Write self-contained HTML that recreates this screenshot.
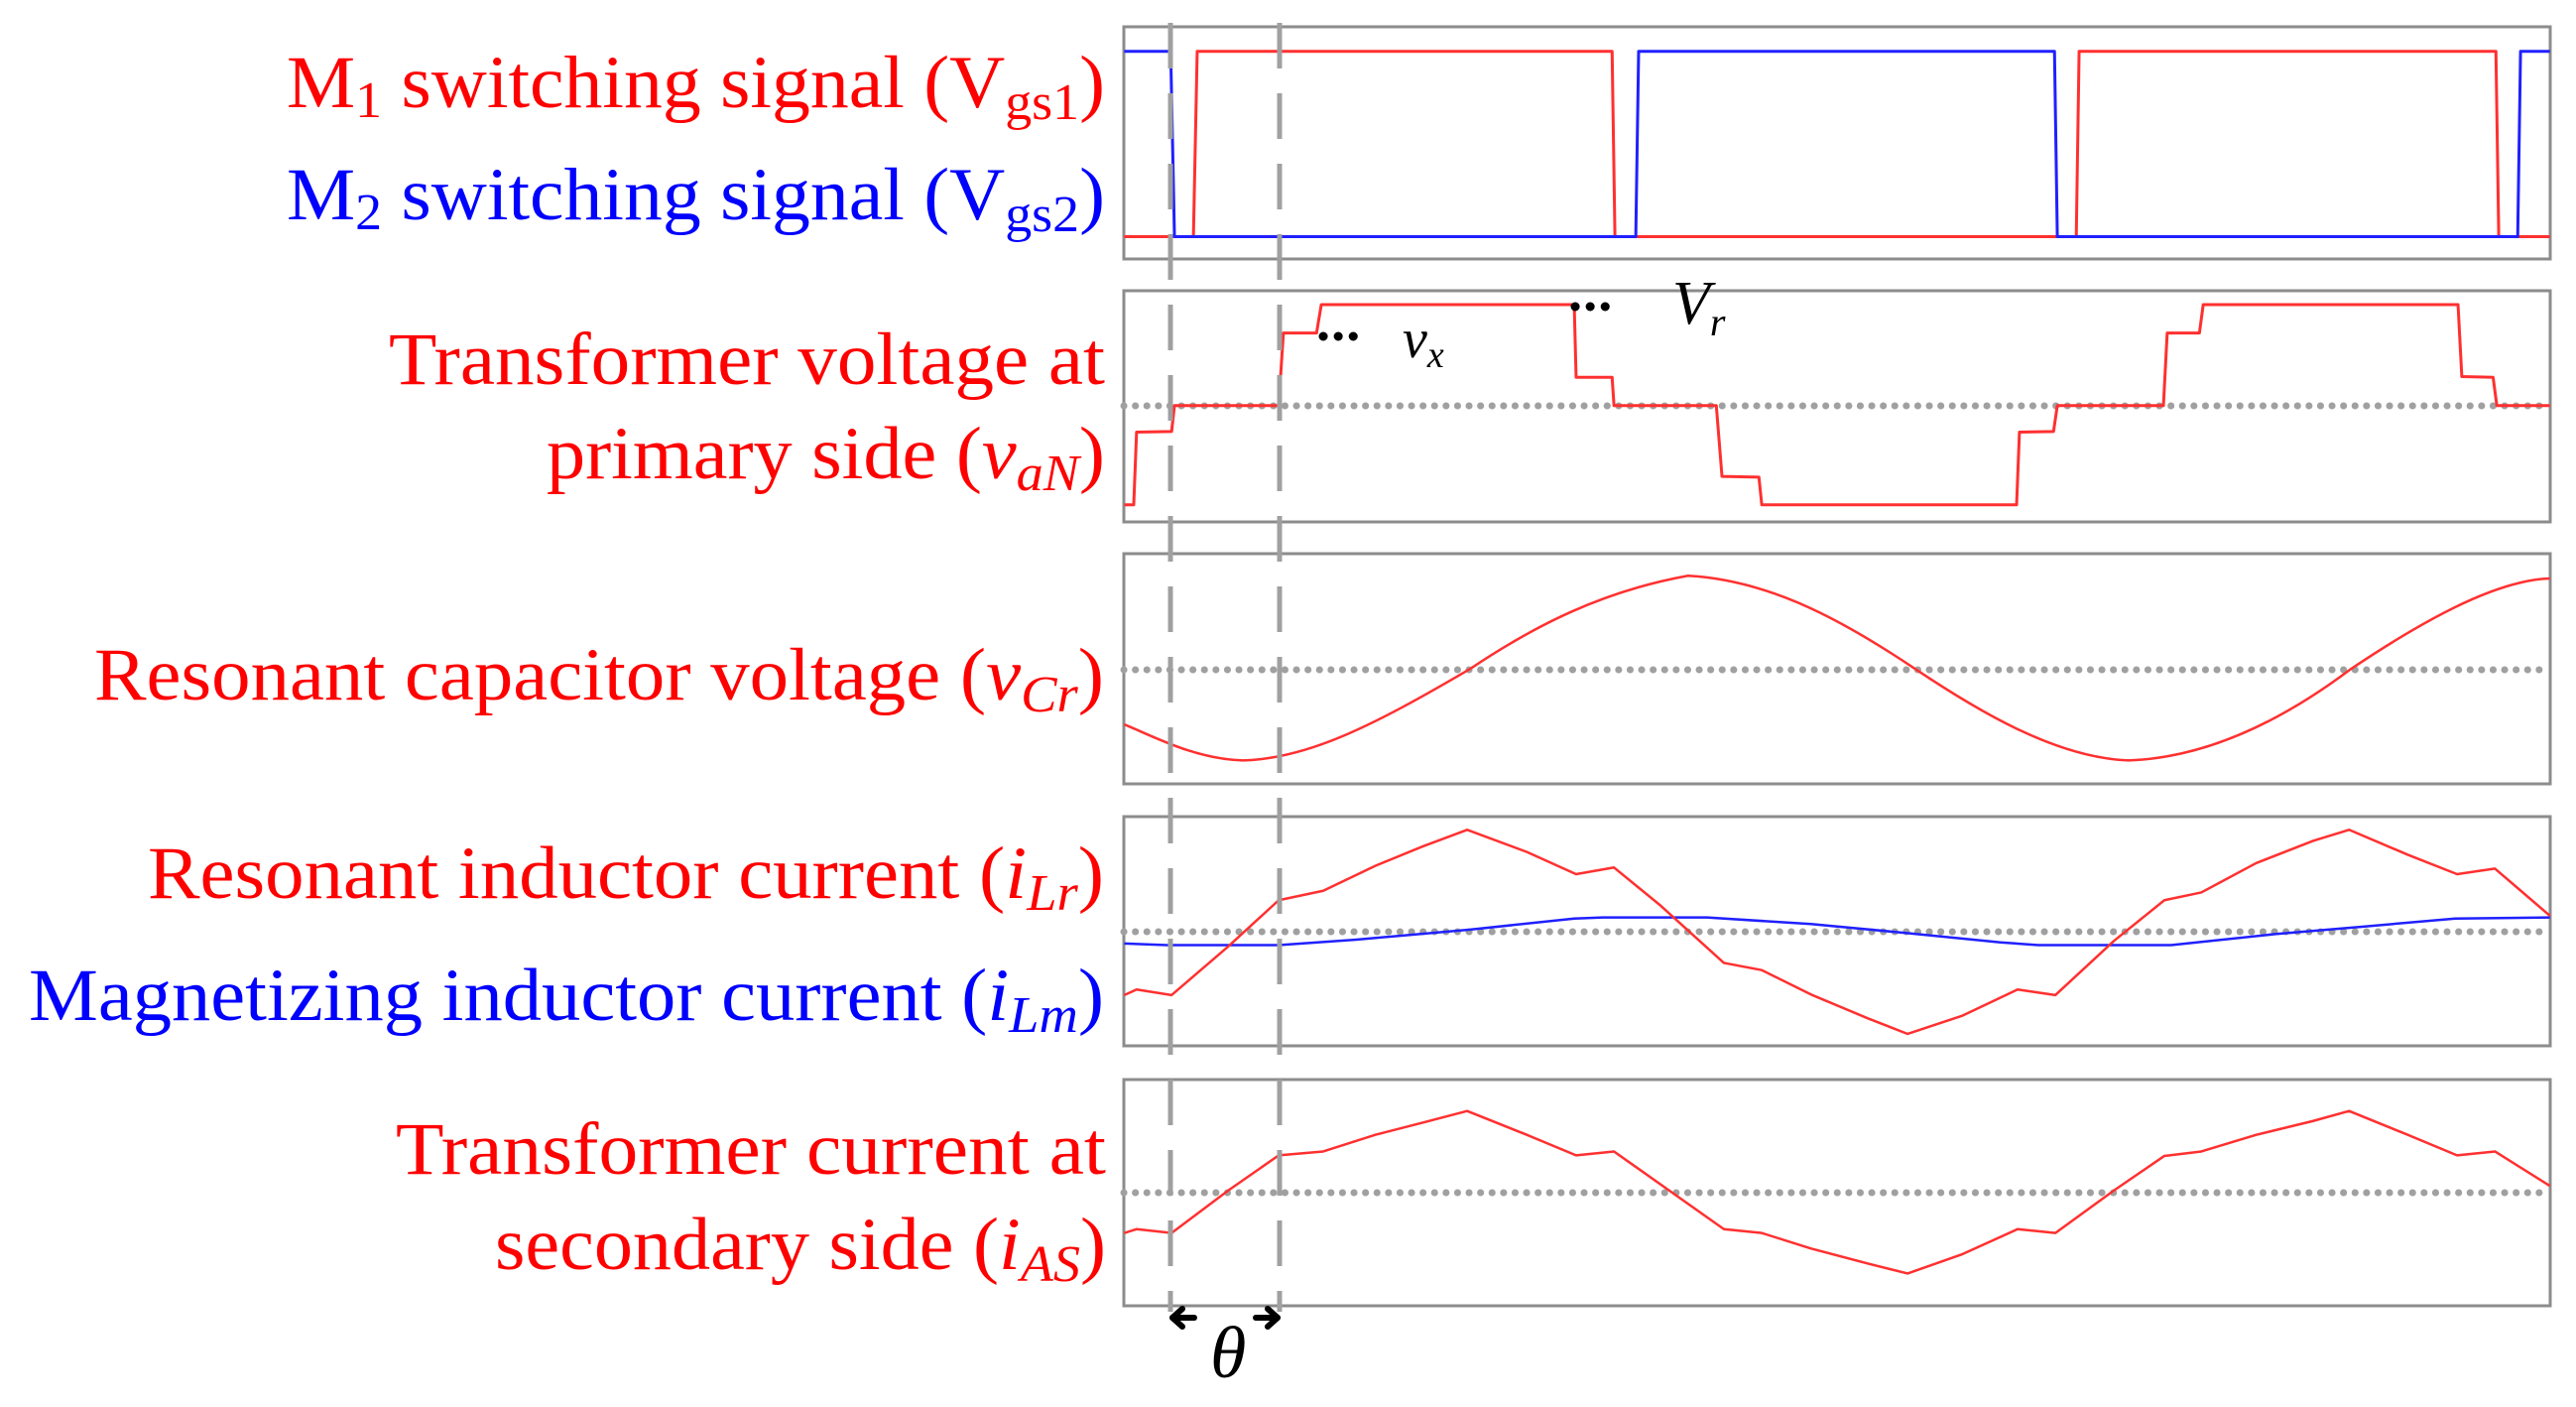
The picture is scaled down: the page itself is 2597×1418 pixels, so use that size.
<!DOCTYPE html>
<html><head><meta charset="utf-8"><style>
html,body{margin:0;padding:0;background:#fff;}
svg{display:block;}
.lbl{font-family:"Liberation Serif",serif;font-size:75px;}
</style></head><body>
<svg width="2597" height="1418" viewBox="0 0 2597 1418" xmlns="http://www.w3.org/2000/svg">
<g fill="none" stroke="#8c8c8c" stroke-width="3">
<rect x="1133" y="27" width="1438" height="234"/>
<rect x="1133" y="293" width="1438" height="233"/>
<rect x="1133" y="558" width="1438" height="232"/>
<rect x="1133" y="823" width="1438" height="231"/>
<rect x="1133" y="1088" width="1438" height="228"/>
</g>
<g stroke="#a0a0a0" stroke-width="7" stroke-linecap="round" stroke-dasharray="0.1 11.5">
<line x1="1133" y1="409" x2="2571" y2="409"/>
<line x1="1133" y1="675" x2="2571" y2="675"/>
<line x1="1133" y1="939" x2="2571" y2="939"/>
<line x1="1133" y1="1202" x2="2571" y2="1202"/>
</g>
<g transform="translate(1100,0) scale(0.955,0.357)" fill="none" stroke-width="3" stroke-linejoin="round">
<polyline vector-effect="non-scaling-stroke" stroke="#ff3030" points="35,668 108,668 112,145 550,145 553,668 1040,668 1043,145 1483,145 1486,668 1540,668"/>
<polyline vector-effect="non-scaling-stroke" stroke="#2020ff" points="35,145 84,145 88,668 575,668 578,145 1017,145 1020,668 1506,668 1509,145 1540,145"/>
<polyline vector-effect="non-scaling-stroke" stroke="#ff3030" points="35,1425 45,1425 48,1220 85,1218 88,1145 198,1145 203,940 238,940 243,860 510,860 512,1065 550,1065 552,1145 660,1145 666,1345 705,1347 708,1425 977,1425 980,1220 1016,1218 1020,1145 1132,1145 1136,940 1170,940 1174,860 1443,860 1447,1063 1480,1065 1484,1145 1540,1145"/>
</g>
<g transform="translate(1100,540) scale(0.955,0.559)" fill="none" stroke-width="2.5" stroke-linejoin="round">
<path vector-effect="non-scaling-stroke" stroke="#ff3030" d="M35,340 C70,365 110,402 160,405 C230,402 300,340 400,240 C470,160 540,100 630,72 C720,80 800,160 870,240 C940,320 1020,400 1095,405 C1180,400 1260,330 1330,240 C1400,160 1480,80 1540,77"/>
<polyline vector-effect="non-scaling-stroke" stroke="#2020ff" points="35,735 80,738 198,738 280,728 400,710 510,690 540,688 650,688 760,700 860,716 960,733 1000,738 1140,738 1250,718 1340,705 1440,690 1540,688"/>
<polyline vector-effect="non-scaling-stroke" stroke="#ff3030" points="35,828 48,818 85,828 145,740 198,657 245,640 300,595 350,560 397,530 460,570 512,610 552,598 600,665 668,770 708,783 760,827 820,870 862,898 920,865 978,818 1018,828 1080,730 1133,657 1172,643 1230,590 1290,550 1328,530 1390,575 1442,610 1482,600 1540,685"/>
<polyline vector-effect="non-scaling-stroke" stroke="#ff3030" points="35,1257 48,1250 85,1257 145,1180 198,1117 245,1110 300,1080 350,1058 397,1037 460,1080 512,1117 552,1110 610,1180 668,1250 708,1257 760,1285 820,1312 862,1330 920,1295 978,1250 1018,1257 1080,1180 1133,1118 1172,1110 1230,1080 1290,1055 1328,1037 1390,1080 1442,1117 1482,1110 1540,1172"/>
</g>
<g stroke="#a0a0a0" stroke-width="5" stroke-dasharray="46 25">
<line x1="1180" y1="23" x2="1180" y2="1322"/>
<line x1="1290" y1="23" x2="1290" y2="1322"/>
</g>
<g stroke="#000" stroke-width="9" stroke-linecap="round" stroke-dasharray="0.1 15">
<line x1="1334" y1="339" x2="1366" y2="339"/>
<line x1="1588" y1="309" x2="1620" y2="309"/>
</g>
<text x="1414" y="360" font-family="Liberation Serif,serif" font-style="italic" font-size="56">v<tspan font-size="38" dy="10">x</tspan></text>
<text x="1686" y="326" font-family="Liberation Serif,serif" font-style="italic" font-size="62">V<tspan font-size="40" dy="12">r</tspan></text>
<g stroke="#000" stroke-width="6" fill="none" stroke-linecap="round" stroke-linejoin="round">
<line x1="1182" y1="1328" x2="1204" y2="1328"/><polyline points="1192,1319 1182,1328 1192,1337"/>
<line x1="1266" y1="1328" x2="1288" y2="1328"/><polyline points="1278,1319 1288,1328 1278,1337"/>
</g>
<text x="1220" y="1388" font-family="Liberation Serif,serif" font-style="italic" font-size="74">θ</text>
<g class="lbl" text-anchor="end">
<text x="1114" y="108" fill="#ff0000" textLength="825" lengthAdjust="spacingAndGlyphs">M<tspan font-size="52" dy="10">1</tspan><tspan dy="-10"> switching signal (V</tspan><tspan font-size="52" dy="12">gs1</tspan><tspan dy="-12">)</tspan></text>
<text x="1114" y="221" fill="#0000ff" textLength="825" lengthAdjust="spacingAndGlyphs">M<tspan font-size="52" dy="10">2</tspan><tspan dy="-10"> switching signal (V</tspan><tspan font-size="52" dy="12">gs2</tspan><tspan dy="-12">)</tspan></text>
<text x="1114" y="387" fill="#ff0000" textLength="722" lengthAdjust="spacingAndGlyphs">Transformer voltage at</text>
<text x="1114" y="482" fill="#ff0000" textLength="563" lengthAdjust="spacingAndGlyphs">primary side (<tspan font-style="italic">v</tspan><tspan font-style="italic" font-size="52" dy="12">aN</tspan><tspan dy="-12">)</tspan></text>
<text x="1113" y="705" fill="#ff0000" textLength="1018" lengthAdjust="spacingAndGlyphs">Resonant capacitor voltage (<tspan font-style="italic">v</tspan><tspan font-style="italic" font-size="52" dy="12">Cr</tspan><tspan dy="-12">)</tspan></text>
<text x="1113" y="905" fill="#ff0000" textLength="964" lengthAdjust="spacingAndGlyphs">Resonant inductor current (<tspan font-style="italic">i</tspan><tspan font-style="italic" font-size="52" dy="12">Lr</tspan><tspan dy="-12">)</tspan></text>
<text x="1113" y="1028" fill="#0000ff" textLength="1084" lengthAdjust="spacingAndGlyphs">Magnetizing inductor current (<tspan font-style="italic">i</tspan><tspan font-style="italic" font-size="52" dy="12">Lm</tspan><tspan dy="-12">)</tspan></text>
<text x="1115" y="1183" fill="#ff0000" textLength="716" lengthAdjust="spacingAndGlyphs">Transformer current at</text>
<text x="1115" y="1279" fill="#ff0000" textLength="616" lengthAdjust="spacingAndGlyphs">secondary side (<tspan font-style="italic">i</tspan><tspan font-style="italic" font-size="52" dy="12">AS</tspan><tspan dy="-12">)</tspan></text>
</g>
</svg>
</body></html>
